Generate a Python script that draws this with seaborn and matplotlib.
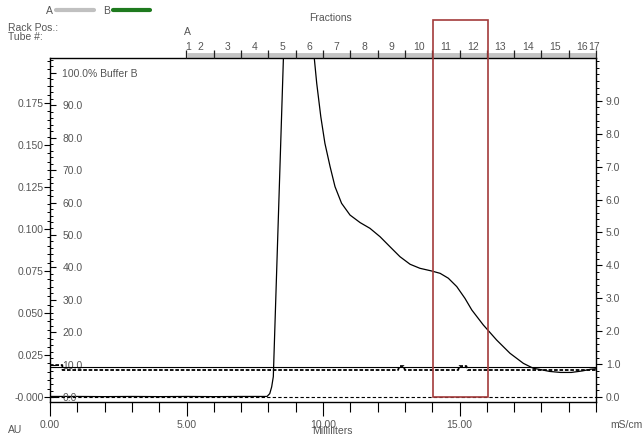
import matplotlib
matplotlib.use('Agg')
import matplotlib.pyplot as plt
import seaborn as sns
import numpy as np
import pandas as pd
from matplotlib.lines import Line2D
from matplotlib.patches import Rectangle
from matplotlib.ticker import MultipleLocator

# UV absorbance trace (AU vs mL)
uv_ml = [0.0, 1.0, 2.0, 3.0, 4.0, 5.0, 6.0, 7.0, 7.95, 8.05, 8.12, 8.18, 8.55, 8.8, 9.1, 9.45, 9.68,
         9.77, 9.92, 10.07, 10.26, 10.44, 10.68, 10.99, 11.36, 11.72, 12.09, 12.45, 12.82, 13.19,
         13.55, 13.98, 14.29, 14.59, 14.9, 15.2, 15.45, 15.87, 16.36, 16.85, 17.34, 17.7, 18.0,
         18.3, 18.7, 19.1, 19.5, 19.8, 20.0]
uv_au = [0.0003, 0.0003, 0.0002, 0.0003, 0.0002, 0.0003, 0.0002, 0.0003, 0.0003, 0.002, 0.006, 0.0121,
         0.2018, 0.32, 0.36, 0.27, 0.2018,
         0.1867, 0.1668, 0.151, 0.1371, 0.1252, 0.1153, 0.1083, 0.1038, 0.1004, 0.0954, 0.0895, 0.0835,
         0.079, 0.0766, 0.075, 0.0736, 0.0707, 0.0657, 0.0587, 0.0518, 0.0429, 0.0339, 0.026, 0.020,
         0.0171, 0.0162, 0.0152, 0.0146, 0.0146, 0.0155, 0.0165, 0.0168]

# conductivity traces (mS/cm)
cond_ml = [0.0, 20.0]
cond_ms = [0.91, 0.91]
cond2_ml = [0.0, 0.45, 0.46, 12.75, 12.8, 12.95, 13.0, 14.95, 15.0, 15.25, 15.3, 20.0]
cond2_ms = [0.97, 0.97, 0.82, 0.82, 0.94, 0.94, 0.82, 0.82, 0.94, 0.94, 0.82, 0.82]

# % buffer B
pb_ml = [0.0, 20.0]
pb_pct = [0.0, 0.0]

# axis ticks
ml_ticks = [0, 5, 10, 15]
ml_labels = ['0.00', '5.00', '10.00', '15.00']
au_ticks = [0.0, 0.025, 0.05, 0.075, 0.1, 0.125, 0.15, 0.175]
au_labels = ['-0.000', '0.025', '0.050', '0.075', '0.100', '0.125', '0.150', '0.175']
pb_ticks = [0, 10, 20, 30, 40, 50, 60, 70, 80, 90, 100]
pb_labels = ['0.0', '10.0', '20.0', '30.0', '40.0', '50.0', '60.0', '70.0', '80.0', '90.0', '100.0% Buffer B']
ms_ticks = [0, 1, 2, 3, 4, 5, 6, 7, 8, 9]
ms_labels = ['%.1f' % v for v in ms_ticks]

# fraction collector
frac_edges = list(range(5, 21))
frac_names = [str(i) for i in range(1, 18)]
frac_label_ml = [5.05] + [k + 0.5 for k in range(5, 20)] + [19.93]
box_ml = [14.03, 16.04]

sns.set_style('white')
plt.rcParams['font.family'] = ['Liberation Sans', 'DejaVu Sans']
txt = '#555555'
fs = 7.5

fig = plt.figure(figsize=(6.44, 4.37), dpi=100)
ax = fig.add_axes([50 / 644, 35 / 437, 546 / 644, 344 / 437])
ax.set_xlim(0, 20)
ax.set_ylim(-0.003, 0.2018)

sns.lineplot(x=uv_ml, y=uv_au, ax=ax, color='black', lw=0.9, estimator=None, sort=False)

for s in ax.spines.values():
    s.set_color('black')
    s.set_linewidth(1.0)

ax.set_xticks(ml_ticks, ml_labels)
ax.xaxis.set_minor_locator(MultipleLocator(1))
ax.tick_params(axis='x', which='major', direction='out', length=10, width=0.8, color='black',
               labelsize=fs, labelcolor=txt, pad=3, bottom=True)
ax.tick_params(axis='x', which='minor', direction='out', length=7, width=0.8, color='black', bottom=True)
ax.set_yticks(au_ticks, au_labels)
ax.yaxis.set_minor_locator(MultipleLocator(0.005))
ax.tick_params(axis='y', which='major', direction='out', length=4, width=0.8, color='black',
               labelsize=fs, labelcolor=txt, pad=0.5, left=True)
ax.tick_params(axis='y', which='minor', direction='out', length=2.5, width=0.7, color='black', left=True)
ax.set_xlabel('Milliliters', fontsize=fs, color=txt, va='center')
ax.xaxis.set_label_coords(282 / 546, -29 / 344)

# % B axis, ticks and labels inside the left spine
axB = ax.twinx()
axB.set_ylim(-1.54, 104.6)
sns.lineplot(x=pb_ml, y=pb_pct, ax=axB, color='black', lw=0.8, estimator=None, sort=False)
axB.lines[0].set_dashes((3, 2))
axB.yaxis.set_ticks_position('left')
axB.set_yticks(pb_ticks, pb_labels)
axB.yaxis.set_minor_locator(MultipleLocator(2))
axB.tick_params(axis='y', which='major', direction='in', length=4, width=0.8, color='black',
                labelsize=fs, labelcolor=txt, pad=-9, left=True, right=False,
                labelleft=True, labelright=False)
axB.tick_params(axis='y', which='minor', direction='in', length=2.5, width=0.7, color='black',
                left=True, right=False)
for t in axB.get_yticklabels():
    t.set_horizontalalignment('left')
for s in axB.spines.values():
    s.set_visible(False)

# conductivity axis on the right
axC = ax.twinx()
axC.set_ylim(-0.152, 10.30)
sns.lineplot(x=cond_ml, y=cond_ms, ax=axC, color='black', lw=0.8, estimator=None, sort=False)
sns.lineplot(x=cond2_ml, y=cond2_ms, ax=axC, color='black', lw=1.3, estimator=None, sort=False)
axC.lines[1].set_dashes((2, 1))
axC.set_yticks(ms_ticks, ms_labels)
axC.yaxis.set_minor_locator(MultipleLocator(0.2))
axC.tick_params(axis='y', which='major', direction='out', length=4, width=0.8, color='black',
                labelsize=fs, labelcolor=txt, pad=3, right=True)
axC.tick_params(axis='y', which='minor', direction='out', length=2.5, width=0.7, color='black', right=True)
for s in axC.spines.values():
    s.set_visible(False)

# fractions axis on top
ax.plot([frac_edges[0], frac_edges[-1]], [1.008, 1.008], transform=ax.get_xaxis_transform(),
        color='#c4c4c4', lw=3.5, clip_on=False, solid_capstyle='butt', zorder=1.5)
ax3 = ax.twiny()
ax3.set_xlim(0, 20)
ax3.set_xticks(frac_edges, [''] * len(frac_edges))
ax3.set_xticks(frac_label_ml, frac_names, minor=True)
ax3.tick_params(axis='x', which='major', direction='out', length=6, width=0.9, color='#222222', top=True)
ax3.tick_params(axis='x', which='minor', length=0, labelsize=fs, labelcolor=txt, pad=4.5, top=True)
for s in ax3.spines.values():
    s.set_visible(False)

ax3.add_patch(Rectangle((box_ml[0], 0), box_ml[1] - box_ml[0], 0.2244, transform=ax.transData,
                        fill=False, ec='#a33b3b', lw=1.2, clip_on=False, zorder=10))

# header texts
fig.text(8 / 644, 1 - 28 / 437, 'Rack Pos.:', fontsize=fs, color=txt, va='center')
fig.text(8 / 644, 1 - 37 / 437, 'Tube #:', fontsize=fs, color=txt, va='center')
fig.text(187 / 644, 1 - 32 / 437, 'A', fontsize=fs, color=txt, va='center', ha='center')
fig.text(330 / 644, 1 - 18 / 437, 'Fractions', fontsize=fs, color=txt, va='center', ha='center')
fig.text(8 / 644, 1 - 430 / 437, 'AU', fontsize=fs, color=txt, va='center')
fig.text(610 / 644, 1 - 425 / 437, 'mS/cm', fontsize=fs, color=txt, va='center')

handles = [Line2D([], [], color='#c0c0c0', lw=3), Line2D([], [], color='#1e7a1e', lw=3)]
fig.legend(handles, ['A', 'B'], markerfirst=False, ncol=2, frameon=False, loc='upper left',
           bbox_to_anchor=(46 / 644, 1 - 6 / 437), fontsize=fs, labelcolor=txt,
           handlelength=3.6, handletextpad=0.3, columnspacing=0.9, borderpad=0, borderaxespad=0)

fig.savefig('out.png', dpi=100)
